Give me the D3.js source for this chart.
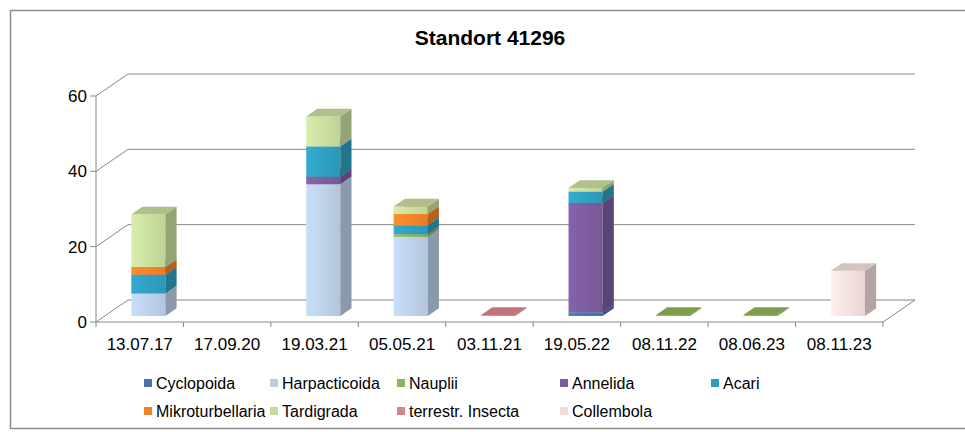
<!DOCTYPE html>
<html>
<head>
<meta charset="utf-8">
<script src="https://cdn.jsdelivr.net/npm/d3@7"></script>
<style>
  body { margin: 0; background: #fff; }
  text { font-family: Arial, "Liberation Sans", sans-serif; fill: #000; }
</style>
</head>
<body>
<svg id="chart"></svg>
<script>
// data
const categories = ['13.07.17', '17.09.20', '19.03.21', '05.05.21', '03.11.21', '19.05.22', '08.11.22', '08.06.23', '08.11.23']
const seriesNames = ['Cyclopoida', 'Harpacticoida', 'Nauplii', 'Annelida', 'Acari', 'Mikroturbellaria', 'Tardigrada', 'terrestr. Insecta', 'Collembola']
const cyclopoida = [0, 0, 0, 0, 0, 1, 0, 0, 0]
const harpacticoida = [6, 0, 35, 21, 0, 0, 0, 0, 0]
const nauplii = [0, 0, 0, 0.7, 0, 0, 0.3, 0.3, 0]
const annelida = [0, 0, 2, 0, 0, 29, 0, 0, 0]
const acari = [5, 0, 8, 2.4, 0, 3, 0, 0, 0]
const mikroturbellaria = [2, 0, 0, 3, 0, 0, 0, 0, 0]
const tardigrada = [14, 0, 8, 2, 0, 1, 0, 0, 0]
const insecta = [0, 0, 0, 0, 0.3, 0, 0, 0, 0]
const collembola = [0, 0, 0, 0, 0, 0, 0, 0, 12]
const yTicks = [0, 20, 40, 60]

const seriesValues = [cyclopoida, harpacticoida, nauplii, annelida, acari, mikroturbellaria, tardigrada, insecta, collembola]
const colors = ['#4a72ad', '#b8cce4', '#8fb35a', '#7b5b9d', '#2f9cbd', '#f08228', '#c6da9c', '#d9838f', '#f0dcda']

const W = 965, H = 432
const svg = d3.select('#chart').attr('width', W).attr('height', H)

// soft horizontal shading on the column fronts
const defs = svg.append('defs')
colors.forEach((c, j) => {
    const grad = defs.append('linearGradient').attr('id', 'g' + j)
    grad.append('stop').attr('offset', '0%').attr('stop-color', d3.color(c).brighter(0.25))
    grad.append('stop').attr('offset', '100%').attr('stop-color', d3.color(c).darker(0.1))
})

// outer frame
svg.append('rect')
    .attr('x', 10.5).attr('y', 10.5)
    .attr('width', 970).attr('height', 418)
    .attr('fill', 'none')
    .attr('stroke', '#8c8c8c')
    .attr('stroke-width', 1.5)

svg.append('text')
    .attr('x', 490).attr('y', 45)
    .attr('text-anchor', 'middle')
    .style('font-size', '21px')
    .style('font-weight', 'bold')
    .text('Standort 41296')

const x = d3.scaleBand().domain(categories).range([96, 883])
const y = d3.scaleLinear().domain([0, 60]).range([322, 96])

// oblique depth of the floor, bars sit between barFront and barBack
const depth = { x: 32, y: -22 }
const barFront = 0.27, barBack = 0.62

const proj = (px, v, d) => [px + d * depth.x, y(v) + d * depth.y]
const poly = pts => 'M' + pts.map(p => p.join(',')).join('L') + 'Z'

const grid = svg.append('g')
    .attr('fill', 'none')
    .attr('stroke', '#868686')
    .attr('stroke-width', 1)

const xStart = x.range()[0], xEnd = x.range()[1]

// back wall gridlines and the left wall diagonals
yTicks.forEach(t => {
    const a = proj(xStart, t, 0), b = proj(xStart, t, 1), c = proj(xEnd, t, 1)
    grid.append('path').attr('d', 'M' + a + 'L' + b + 'L' + c)
})

// floor front edge and right edge
grid.append('path').attr('d', 'M' + proj(xStart, 0, 0) + 'L' + proj(xEnd, 0, 0) + 'L' + proj(xEnd, 0, 1))

// value axis
grid.append('path').attr('d', 'M' + proj(xStart, 0, 0) + 'L' + proj(xStart, 60, 0))
yTicks.forEach(t => {
    const p = proj(xStart, t, 0)
    grid.append('line')
        .attr('x1', p[0] - 6).attr('x2', p[0])
        .attr('y1', p[1]).attr('y2', p[1])
    svg.append('text')
        .attr('x', p[0] - 9).attr('y', p[1])
        .attr('text-anchor', 'end')
        .attr('dy', '0.35em')
        .style('font-size', '17px')
        .text(t)
})

// category ticks and labels
const step = x.step()
d3.range(categories.length + 1).forEach(i => {
    const px = xStart + i * step
    grid.append('line')
        .attr('x1', px).attr('x2', px)
        .attr('y1', y(0)).attr('y2', y(0) + 5)
})
svg.append('g').selectAll('text')
    .data(categories)
    .join('text')
    .attr('x', d => x(d) + x.bandwidth() / 2)
    .attr('y', 350)
    .attr('text-anchor', 'middle')
    .style('font-size', '17px')
    .text(d => d)

// stacked 3d columns
const rows = categories.map((c, i) => {
    const row = { cat: c }
    seriesNames.forEach((s, j) => { row[s] = seriesValues[j][i] })
    return row
})
const stacked = d3.stack().keys(seriesNames)(rows)

const bars = svg.append('g')
const half = x.bandwidth() * 0.195

categories.forEach((c, i) => {
    const xc = x(c) + x.bandwidth() / 2
    const xl = xc - half, xr = xc + half
    stacked.forEach((layer, j) => {
        const v0 = layer[i][0], v1 = layer[i][1]
        if (v1 - v0 <= 0) return
        const col = d3.color(colors[j])
        const g = bars.append('g').attr('stroke', 'none')
        g.append('path')
            .attr('d', poly([proj(xl, v0, barFront), proj(xr, v0, barFront), proj(xr, v1, barFront), proj(xl, v1, barFront)]))
            .attr('fill', 'url(#g' + j + ')')
        g.append('path')
            .attr('d', poly([proj(xr, v0, barFront), proj(xr, v0, barBack), proj(xr, v1, barBack), proj(xr, v1, barFront)]))
            .attr('fill', col.darker(0.8))
        g.append('path')
            .attr('d', poly([proj(xl, v1, barFront), proj(xr, v1, barFront), proj(xr, v1, barBack), proj(xl, v1, barBack)]))
            .attr('fill', col.darker(0.35))
    })
})

// legend, two rows
const legendX = [156, 282, 409, 572, 723]
const legendY = [383, 411]
const legend = svg.append('g')
seriesNames.forEach((s, j) => {
    const lx = legendX[j % 5], ly = legendY[Math.floor(j / 5)]
    legend.append('rect')
        .attr('x', lx - 12).attr('y', ly - 4)
        .attr('width', 8).attr('height', 8)
        .attr('fill', colors[j])
    legend.append('text')
        .attr('x', lx).attr('y', ly)
        .attr('dy', '0.35em')
        .style('font-size', '16px')
        .text(s)
})
</script>
</body>
</html>
